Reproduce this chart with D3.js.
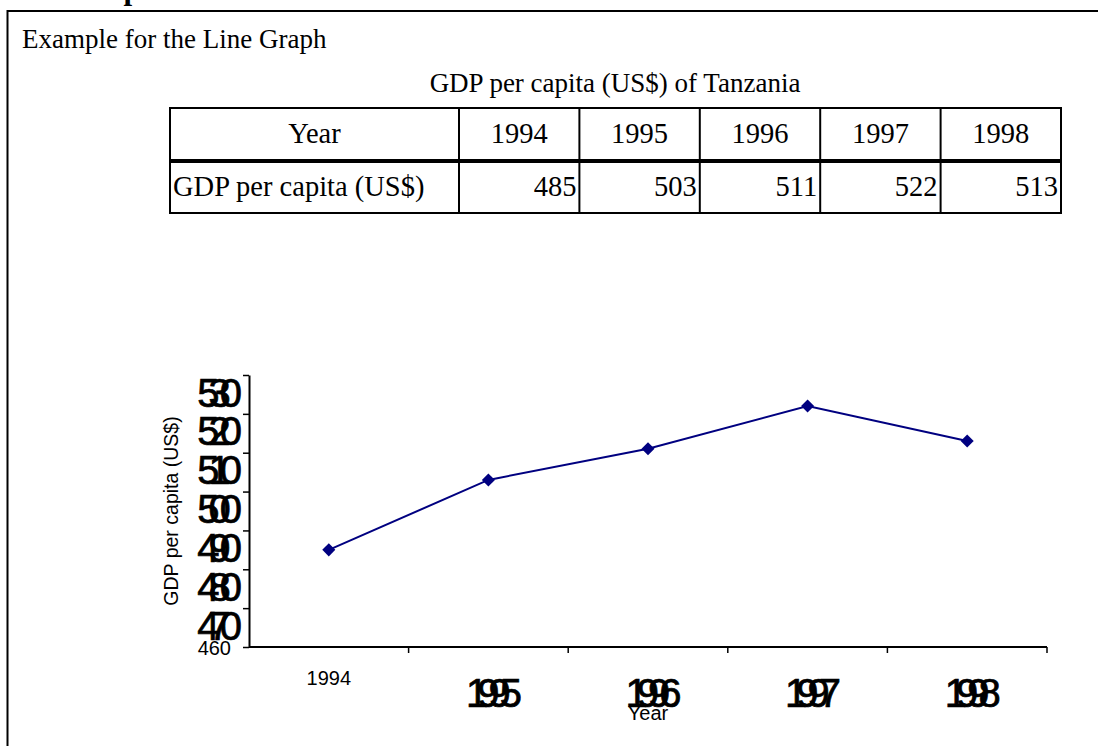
<!DOCTYPE html>
<meta charset="utf-8">
<style>
body { margin: 0; background: #fff; }
svg { display: block; }
.serif { font-family: "Liberation Serif", "Times New Roman", serif; }
.sans { font-family: "Liberation Sans", Arial, sans-serif; }
</style>
<svg id="page" width="1098" height="746"></svg>
<script src="https://d3js.org/d3.v7.min.js"></script>
<script>
// data
var years = ["1994", "1995", "1996", "1997", "1998"];
var gdp = [485, 503, 511, 522, 513];
var yTicks = [460, 470, 480, 490, 500, 510, 520, 530];

var pageTitle = "Example for the Line Graph";
var tableTitle = "GDP per capita (US$) of Tanzania";
var rowLabels = ["Year", "GDP per capita (US$)"];
var yTitle = "GDP per capita (US$)";
var xTitle = "Year";

var svg = d3.select("#page");

// page frame, runs off the right and bottom edges
svg.append("rect")
    .attr("x", 7.5).attr("y", 11)
    .attr("width", 1200).attr("height", 800)
    .attr("fill", "none").attr("stroke", "#000").attr("stroke-width", 2);

// heading cut off by the top edge, only the descender shows
svg.append("text")
    .attr("class", "serif")
    .attr("x", 46).attr("y", -1)
    .style("font-size", "31px").style("font-weight", "bold")
    .text("Example");

svg.append("text")
    .attr("class", "serif")
    .attr("x", 22).attr("y", 48)
    .style("font-size", "27px")
    .text(pageTitle);

svg.append("text")
    .attr("class", "serif")
    .attr("x", 615).attr("y", 92)
    .attr("text-anchor", "middle")
    .style("font-size", "27px")
    .text(tableTitle);

// ---- table ----
var tLeft = 170, tRight = 1061, tTop = 108, tMid = 161, tBottom = 213;
var col = d3.scaleBand().domain(years).range([459, tRight]);

var table = svg.append("g").attr("class", "serif").style("font-size", "28.5px");

table.append("rect")
    .attr("x", tLeft).attr("y", tTop)
    .attr("width", tRight - tLeft).attr("height", tBottom - tTop)
    .attr("fill", "none").attr("stroke", "#000").attr("stroke-width", 2);

table.append("line")
    .attr("x1", tLeft).attr("x2", tRight)
    .attr("y1", tMid).attr("y2", tMid)
    .attr("stroke", "#000").attr("stroke-width", 4);

table.selectAll("line.col")
    .data(years)
    .enter().append("line")
    .attr("class", "col")
    .attr("x1", d => col(d)).attr("x2", d => col(d))
    .attr("y1", tTop).attr("y2", tBottom)
    .attr("stroke", "#000").attr("stroke-width", 2);

table.append("text")
    .attr("x", (tLeft + col.range()[0]) / 2).attr("y", 143)
    .attr("text-anchor", "middle")
    .text(rowLabels[0]);

table.append("text")
    .attr("x", tLeft + 3).attr("y", 196)
    .text(rowLabels[1]);

table.selectAll("text.yr")
    .data(years)
    .enter().append("text")
    .attr("class", "yr")
    .attr("x", d => col(d) + col.bandwidth() / 2).attr("y", 143)
    .attr("text-anchor", "middle")
    .text(d => d);

table.selectAll("text.val")
    .data(gdp)
    .enter().append("text")
    .attr("class", "val")
    .attr("x", (d, i) => col(years[i]) + col.bandwidth() - 3).attr("y", 196)
    .attr("text-anchor", "end")
    .text(d => d);

// ---- chart ----
var x = d3.scaleBand().domain(years).range([249, 1047]);
var y = d3.scaleLinear().domain([460, 530]).range([647, 375]);

var chart = svg.append("g").attr("class", "sans");

// y axis
var yAxis = chart.append("g")
    .attr("transform", "translate(" + x.range()[0] + ",0)")
    .call(d3.axisLeft(y).tickValues(yTicks).tickSize(6).tickPadding(12).tickSizeOuter(0));

yAxis.select(".domain").attr("stroke-width", 2);
yAxis.selectAll(".tick line").attr("stroke-width", 1.5);
yAxis.selectAll(".tick text")
    .attr("fill", "#000")
    .attr("font-family", null)
    .style("font-size", (d, i) => i === 0 ? "20px" : "40px")
    .style("letter-spacing", (d, i) => i === 0 ? "0px" : "-11px")
    .attr("stroke", (d, i) => i === 0 ? null : "#000")
    .attr("stroke-width", 0.7)
    .attr("dy", (d, i) => i === 0 ? "7px" : "31px");

// x axis line and ticks at category boundaries
var bounds = years.map(d => x(d)).concat([x.range()[1]]);
chart.append("line")
    .attr("x1", x.range()[0]).attr("x2", x.range()[1])
    .attr("y1", y(460)).attr("y2", y(460))
    .attr("stroke", "#000").attr("stroke-width", 2);

chart.selectAll("line.xtick")
    .data(bounds.slice(1))
    .enter().append("line")
    .attr("class", "xtick")
    .attr("x1", d => d).attr("x2", d => d)
    .attr("y1", y(460)).attr("y2", y(460) + 6)
    .attr("stroke", "#000").attr("stroke-width", 1.5);

chart.selectAll("text.xlab")
    .data(years)
    .enter().append("text")
    .attr("class", "xlab")
    .attr("x", d => x(d) + x.bandwidth() / 2)
    .attr("y", (d, i) => y(460) + (i === 0 ? 38 : 60))
    .attr("text-anchor", "middle")
    .style("font-size", (d, i) => i === 0 ? "20px" : "40px")
    .style("letter-spacing", (d, i) => i === 0 ? "0px" : "-11px")
    .attr("stroke", (d, i) => i === 0 ? null : "#000")
    .attr("stroke-width", 0.7)
    .text(d => d);

// axis titles
chart.append("text")
    .attr("transform", "translate(178," + ((y.range()[0] + y.range()[1]) / 2) + ") rotate(-90)")
    .attr("text-anchor", "middle")
    .style("font-size", "19.5px")
    .text(yTitle);

chart.append("text")
    .attr("x", (x.range()[0] + x.range()[1]) / 2).attr("y", 720)
    .attr("text-anchor", "middle")
    .style("font-size", "20px")
    .text(xTitle);

// series
var line = d3.line()
    .x((d, i) => x(years[i]) + x.bandwidth() / 2)
    .y(d => y(d));

chart.append("path")
    .datum(gdp)
    .attr("d", line)
    .attr("fill", "none")
    .attr("stroke", "#000080")
    .attr("stroke-width", 2);

chart.selectAll("path.pt")
    .data(gdp)
    .enter().append("path")
    .attr("class", "pt")
    .attr("d", d3.symbol().type(d3.symbolSquare).size(85))
    .attr("transform", (d, i) => "translate(" + (x(years[i]) + x.bandwidth() / 2) + "," + y(d) + ") rotate(45)")
    .attr("fill", "#000080");
</script>
